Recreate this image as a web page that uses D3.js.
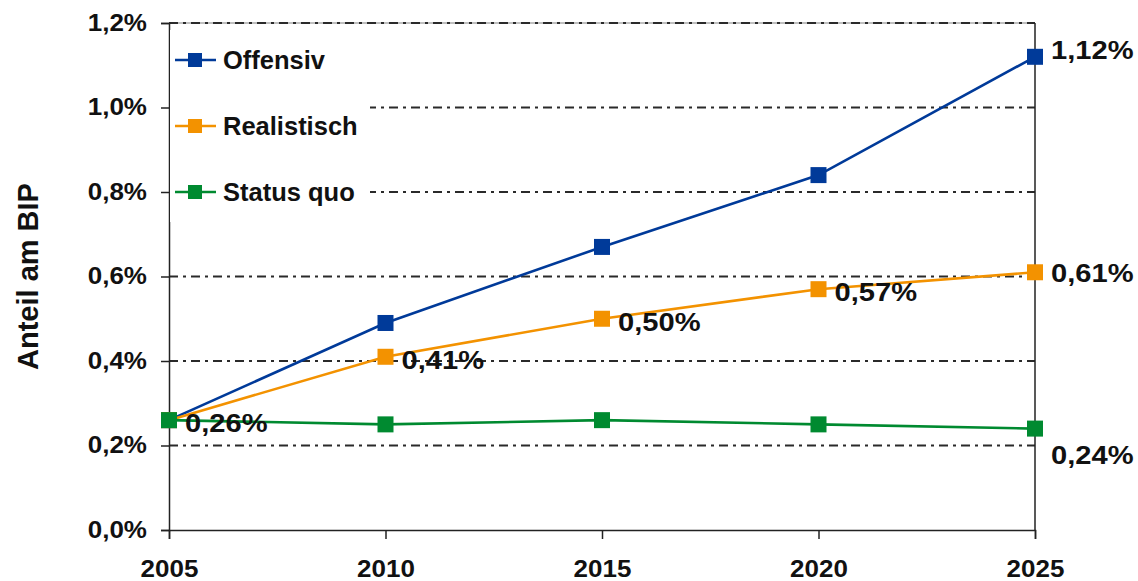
<!DOCTYPE html>
<html>
<head>
<meta charset="utf-8">
<script src="https://cdn.jsdelivr.net/npm/d3@7"></script>
<style>
  body { margin: 0; background: #fff; }
  svg { display: block; font-family: 'Liberation Sans', Arial, sans-serif; font-weight: bold; }
</style>
</head>
<body>
<div id="chart"></div>
<script>
const years = [2005, 2010, 2015, 2020, 2025]
const offensiv = [0.26, 0.49, 0.67, 0.84, 1.12]
const realistisch = [0.26, 0.41, 0.50, 0.57, 0.61]
const statusQuo = [0.26, 0.25, 0.26, 0.25, 0.24]
const yTicks = [0, 0.2, 0.4, 0.6, 0.8, 1.0, 1.2]

const series = [
  { name: 'Offensiv', values: offensiv, color: '#003a99' },
  { name: 'Realistisch', values: realistisch, color: '#f39200' },
  { name: 'Status quo', values: statusQuo, color: '#008a30' }
]

// which points carry a value label, and how far it is nudged vertically
const labels = [
  { s: 0, i: 4, dy: -7 },
  { s: 1, i: 1, dy: 3 },
  { s: 1, i: 2, dy: 3 },
  { s: 1, i: 3, dy: 3 },
  { s: 1, i: 4, dy: 1 },
  { s: 2, i: 0, dy: 3 },
  { s: 2, i: 4, dy: 26 }
]

const width = 1138
const height = 581
const margin = { top: 23, right: 103, bottom: 51, left: 169 }

const fmt = v => d3.format('.1f')(v).replace('.', ',') + '%'
const fmtLabel = v => d3.format('.2f')(v).replace('.', ',') + '%'

const svg = d3.select('#chart').append('svg')
  .attr('width', width)
  .attr('height', height)

const x = d3.scaleLinear()
  .domain([2005, 2025])
  .range([margin.left, width - margin.right])

const y = d3.scaleLinear()
  .domain([0, 1.2])
  .range([height - margin.bottom, margin.top])

// top frame line
svg.append('line')
  .attr('x1', x(2005)).attr('x2', x(2025))
  .attr('y1', y(1.2)).attr('y2', y(1.2))
  .attr('stroke', '#aaa')
  .attr('stroke-width', 1.5)

svg.append('g')
  .selectAll('line')
  .data(yTicks.filter(d => d > 0))
  .join('line')
  .attr('x1', x(2005)).attr('x2', x(2025))
  .attr('y1', d => y(d)).attr('y2', d => y(d))
  .attr('stroke', '#2a2a2a')
  .attr('stroke-width', 1.8)
  .attr('stroke-dasharray', '9,5,3,5')

// right frame
svg.append('line')
  .attr('x1', x(2025)).attr('x2', x(2025))
  .attr('y1', y(1.2)).attr('y2', y(0))
  .attr('stroke', '#222')
  .attr('stroke-width', 1.5)

const yAxis = svg.append('g')
  .attr('transform', `translate(${x(2005)},0)`)
  .call(d3.axisLeft(y).tickValues(yTicks).tickFormat(fmt).tickSize(8).tickPadding(11.5))

const xAxis = svg.append('g')
  .attr('transform', `translate(0,${y(0)})`)
  .call(d3.axisBottom(x).tickValues(years).tickFormat(d3.format('d')).tickSize(9).tickPadding(22))

for (const ax of [yAxis, xAxis]) {
  ax.select('.domain').attr('stroke', '#222').attr('stroke-width', 1.5)
  ax.selectAll('.tick line').attr('stroke', '#222').attr('stroke-width', 1.5)
  ax.selectAll('text')
    .attr('fill', '#111')
    .attr('transform', 'scale(1.13,1)')
    .style('font-family', "'Liberation Sans', Arial, sans-serif")
    .style('font-weight', 'bold')
    .style('font-size', '23px')
}

svg.append('text')
  .attr('transform', `translate(38,${(y(0) + y(1.2)) / 2}) rotate(-90)`)
  .attr('text-anchor', 'middle')
  .style('font-size', '29px')
  .attr('fill', '#111')
  .text('Anteil am BIP')

const line = d3.line()
  .x((_, i) => x(years[i]))
  .y(d => y(d))

const groups = svg.selectAll('.series')
  .data(series)
  .join('g')
  .attr('class', 'series')

groups.append('path')
  .attr('d', d => line(d.values))
  .attr('fill', 'none')
  .attr('stroke', d => d.color)
  .attr('stroke-width', 2.6)

groups.selectAll('rect')
  .data(d => d.values.map((v, i) => ({ v, i, color: d.color })))
  .join('rect')
  .attr('x', d => x(years[d.i]) - 8)
  .attr('y', d => y(d.v) - 8)
  .attr('width', 16)
  .attr('height', 16)
  .attr('fill', d => d.color)

svg.append('g')
  .selectAll('text')
  .data(labels)
  .join('text')
  .attr('transform', d => `translate(${x(years[d.i]) + 16},${y(series[d.s].values[d.i]) + d.dy}) scale(1.12,1)`)
  .attr('dominant-baseline', 'central')
  .style('font-size', '26px')
  .attr('fill', '#111')
  .text(d => fmtLabel(series[d.s].values[d.i]))

// legend
const legend = svg.append('g')

legend.append('rect')
  .attr('x', x(2005) + 1)
  .attr('y', 30)
  .attr('width', 200)
  .attr('height', 192)
  .attr('fill', '#fff')

const entries = legend.selectAll('.entry')
  .data(series)
  .join('g')
  .attr('class', 'entry')
  .attr('transform', (_, i) => `translate(${x(2005) + 6},${60 + i * 66})`)

entries.append('line')
  .attr('x1', 0).attr('x2', 41)
  .attr('stroke', d => d.color)
  .attr('stroke-width', 2.6)

entries.append('rect')
  .attr('x', 13).attr('y', -7)
  .attr('width', 14).attr('height', 14)
  .attr('fill', d => d.color)

entries.append('text')
  .attr('x', 48)
  .attr('dominant-baseline', 'central')
  .style('font-size', '25.5px')
  .attr('fill', '#111')
  .text(d => d.name)
</script>
</body>
</html>
